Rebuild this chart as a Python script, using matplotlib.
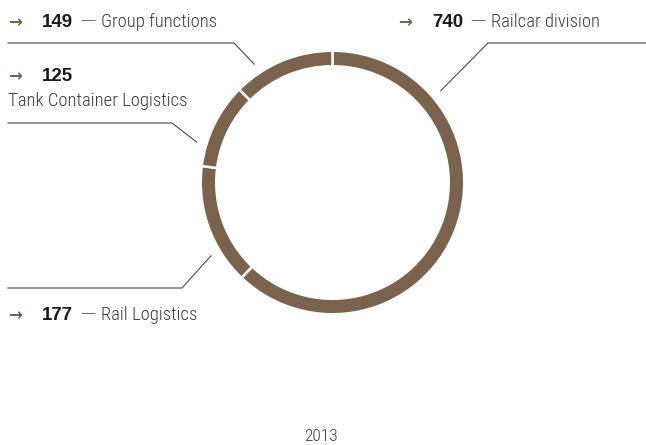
import numpy as np
import matplotlib.pyplot as plt

LABEL_FONT = ['Roboto Condensed', 'Liberation Sans Narrow', 'Roboto', 'DejaVu Sans']
plt.rcParams['font.family'] = LABEL_FONT

# employees by segment, clockwise from 12 o'clock
segments = ['Railcar division', 'Rail Logistics', 'Tank Container Logistics', 'Group functions']
employees = [740, 177, 125, 149]
year = '2013'

BROWN = '#7b624c'
GREY = '#3a3a3a'
W, H = 646, 445


def Y(y):
    # pixel row (from top) -> data y
    return H - y


fig = plt.figure(figsize=(W / 100, H / 100), dpi=100)
ax = fig.add_axes([0, 0, 1, 1])

cx, cy = 332.5, Y(182.5)
ax.pie(employees, startangle=90, counterclock=False, center=(cx, cy), radius=131.75,
       colors=[BROWN] * len(employees),
       wedgeprops=dict(width=15.5, edgecolor='white', linewidth=1.8))
ax.set_xlim(0, W)
ax.set_ylim(0, H)
ax.set_aspect('equal')
ax.axis('off')

# label layout: anchor angle on the ring (deg, math orientation), elbow, line end,
# number position, arrow x, optional label position under the number
layout = {
    'Railcar division': dict(ang=40.3, elbow=(488, 43), end=646, num=(432, 27), arrow=398),
    'Group functions': dict(ang=123.5, elbow=(234, 43), end=8, num=(42, 27), arrow=8),
    'Tank Container Logistics': dict(ang=163.4, elbow=(172, 123), end=8, num=(42, 81), arrow=8,
                                     below=(8, 106)),
    'Rail Logistics': dict(ang=211.1, elbow=(182, 288), end=8, num=(42, 320), arrow=8),
}

r_lead = 142
for name, val in zip(segments, employees):
    L = layout[name]
    a = np.deg2rad(L['ang'])
    x0, y0 = cx + r_lead * np.cos(a), cy + r_lead * np.sin(a)
    ex, ey = L['elbow']
    ax.plot([x0, ex, L['end']], [y0, Y(ey), Y(ey)], color='#4a4a4a', lw=0.8,
            solid_joinstyle='miter')

    nx, ny = L['num']
    ax.text(L['arrow'], Y(ny - 5), '\u2192', color=BROWN, fontsize=12, fontweight='bold',
            family='DejaVu Sans', ha='left', va='center')
    t = ax.text(nx, Y(ny), str(val), color='#1a1a1a', fontsize=13.5, fontweight='bold',
                family=['Liberation Sans', 'DejaVu Sans'], ha='left', va='baseline')
    if 'below' in L:
        bx, by = L['below']
        ax.text(bx, Y(by), name, color=GREY, fontsize=13.4, fontweight='light',
                ha='left', va='baseline')
    else:
        d = ax.annotate('\u2014', xy=(1, 0.5), xycoords=t, xytext=(7, 1.5),
                        textcoords='offset pixels', color=GREY, fontsize=11,
                        fontweight='light', family='DejaVu Sans', ha='left', va='center')
        ax.annotate(name, xy=(1, 0), xycoords=t, xytext=(28, 0),
                    textcoords='offset pixels', color=GREY, fontsize=13.4,
                    fontweight='light', ha='left', va='bottom')

ax.text(321, Y(441), year, color=GREY, fontsize=12.5, fontweight='light',
        ha='center', va='baseline')

fig.savefig('out.png', dpi=100)
